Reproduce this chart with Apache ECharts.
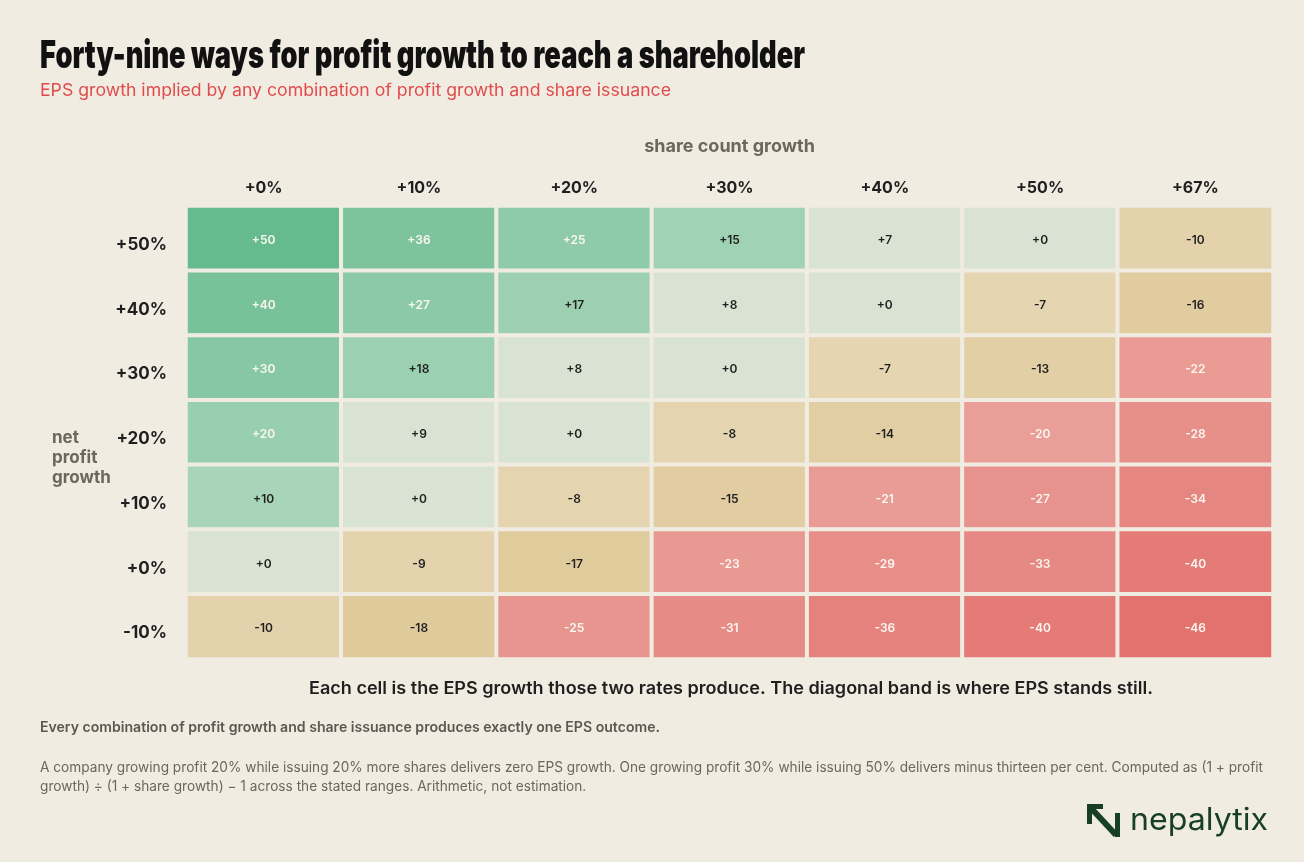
<!DOCTYPE html>
<html style="height: 100%">
<head>
    <meta charset="utf-8">
    <script src="https://cdn.jsdelivr.net/npm/echarts@6/dist/echarts.min.js"></script>
</head>
<body style="height: 100%; margin: 0; background: #f1ece2">
    <div id="main" style="width: 1304px; height: 862px"></div>
    <script type="text/javascript">
        // axes
        var shareGrowth = ['+0%', '+10%', '+20%', '+30%', '+40%', '+50%', '+67%'];
        var profitGrowth = ['+50%', '+40%', '+30%', '+20%', '+10%', '+0%', '-10%'];

        // EPS growth, one row per profit growth (top to bottom)
        var row50 = [50, 36, 25, 15, 7, 0, -10];
        var row40 = [40, 27, 17, 8, 0, -7, -16];
        var row30 = [30, 18, 8, 0, -7, -13, -22];
        var row20 = [20, 9, 0, -8, -14, -20, -28];
        var row10 = [10, 0, -8, -15, -21, -27, -34];
        var row0 = [0, -9, -17, -23, -29, -33, -40];
        var rowM10 = [-10, -18, -25, -31, -36, -40, -46];
        var epsRows = [row50, row40, row30, row20, row10, row0, rowM10];

        var bg = '#f1ece2';
        var myChart = echarts.init(document.getElementById('main'));

        var data = [];
        for (var r = 0; r < epsRows.length; r++) {
            for (var c = 0; c < epsRows[r].length; c++) {
                data.push([c, r, epsRows[r][c]]);
            }
        }

        // colour bands: green above +9, pale around zero, tan down to -19, red beyond
        function hex2rgb(h) {
            return [parseInt(h.substr(1, 2), 16), parseInt(h.substr(3, 2), 16), parseInt(h.substr(5, 2), 16)];
        }
        function mix(a, b, t) {
            t = Math.max(0, Math.min(1, t));
            var x = hex2rgb(a), y = hex2rgb(b);
            return 'rgb(' + [0, 1, 2].map(function (i) { return Math.round(x[i] + (y[i] - x[i]) * t); }).join(',') + ')';
        }
        function bandColor(v) {
            if (v >= 10) return mix('#a8d5b9', '#66bb8e', (v - 10) / 40);
            if (v >= 0) return '#d8e3d3';
            if (v > -20) return mix('#e5d5b1', '#dfca9b', (-v - 7) / 11);
            return mix('#e99e97', '#e3716e', (-v - 20) / 26);
        }
        var colorStops = [];
        for (var v = -46; v <= 50; v++) colorStops.push(bandColor(v));

        // squeeze text horizontally to match the condensed typeface of the original
        var ctx = document.createElement('canvas').getContext('2d');
        function fit(text, font, width) {
            ctx.font = font;
            return width / ctx.measureText(text).width;
        }
        function txt(x, y, text, font, color, width, align) {
            var s = width ? fit(text, font, width) : 1;
            return {
                type: 'text', x: x, y: y, scaleX: s, scaleY: 1,
                style: {
                    text: text, font: font, fill: color,
                    textAlign: align || 'left', align: align || 'left',
                    textVerticalAlign: 'middle', verticalAlign: 'middle'
                }
            };
        }

        var titleFont = '900 38px Inter';
        var subFont = '400 17px Inter';
        var noteFont = '600 17px Inter';
        var leadFont = '600 14px Inter';
        var bodyFont = '400 14px Inter';
        var para1 = 'A company growing profit 20% while issuing 20% more shares delivers zero EPS growth. One growing profit 30% while issuing 50% delivers minus thirteen per cent. Computed as (1 + profit';
        var para2 = 'growth) \u00f7 (1 + share growth) \u2212 1 across the stated ranges. Arithmetic, not estimation.';
        var paraScale = fit(para1, bodyFont, 1223);

        var option = {
            backgroundColor: bg,
            textStyle: { fontFamily: 'Inter' },
            grid: { left: 186, top: 206, width: 1087, height: 453 },
            xAxis: {
                type: 'category',
                position: 'top',
                data: shareGrowth,
                name: 'share count growth',
                nameLocation: 'middle',
                nameGap: 50,
                nameTextStyle: { color: '#6b675c', fontSize: 18, fontWeight: 700 },
                axisLine: { show: false },
                axisTick: { show: false },
                splitLine: { show: false },
                axisLabel: { color: '#1f1f1f', fontSize: 16, fontWeight: 700, margin: 10 }
            },
            yAxis: {
                type: 'category',
                inverse: true,
                data: profitGrowth,
                axisLine: { show: false },
                axisTick: { show: false },
                splitLine: { show: false },
                axisLabel: {
                    margin: 19,
                    formatter: '{a|{value}}',
                    rich: { a: { color: '#1f1f1f', fontSize: 17, fontWeight: 700, padding: [13, 0, 0, 0] } }
                }
            },
            visualMap: {
                show: false,
                type: 'continuous',
                min: -46,
                max: 50,
                dimension: 2,
                inRange: { color: colorStops }
            },
            series: [{
                type: 'heatmap',
                data: data,
                itemStyle: { borderColor: bg, borderWidth: 4 },
                emphasis: { disabled: true },
                label: {
                    show: true,
                    formatter: function (p) {
                        var v = p.value[2];
                        var s = (v >= 0 ? '+' : '-') + Math.abs(v);
                        return Math.abs(v) >= 20 ? '{w|' + s + '}' : '{d|' + s + '}';
                    },
                    rich: {
                        w: { color: '#fbf7f0', fontSize: 12, fontWeight: 600, padding: [4, 0, 0, 0] },
                        d: { color: '#1f1f1f', fontSize: 12, fontWeight: 600, padding: [4, 0, 0, 0] }
                    }
                }
            }],
            graphic: [
                txt(40, 57, 'Forty-nine ways for profit growth to reach a shareholder', titleFont, '#111111', 765),
                txt(40, 91, 'EPS growth implied by any combination of profit growth and share issuance', subFont, '#e14b4b', 631),
                {
                    type: 'text', left: 52, top: 428,
                    style: {
                        text: 'net\nprofit\ngrowth', font: '700 17px Inter', fill: '#6b675c', lineHeight: 20
                    }
                },
                txt(731, 689, 'Each cell is the EPS growth those two rates produce. The diagonal band is where EPS stands still.', noteFont, '#1f1f1f', 844, 'center'),
                txt(40, 728, 'Every combination of profit growth and share issuance produces exactly one EPS outcome.', leadFont, '#5b5850', 620),
                {
                    type: 'text', x: 40, y: 768, scaleX: paraScale,
                    style: { text: para1, font: bodyFont, fill: '#6b675c', textVerticalAlign: 'middle', verticalAlign: 'middle' }
                },
                {
                    type: 'text', x: 40, y: 787, scaleX: paraScale,
                    style: { text: para2, font: bodyFont, fill: '#6b675c', textVerticalAlign: 'middle', verticalAlign: 'middle' }
                },
                // logo mark
                {
                    type: 'polygon',
                    shape: { points: [[1087, 804], [1103, 804], [1103, 809], [1092, 809], [1092, 824], [1087, 824]] },
                    style: { fill: '#173f26' }
                },
                {
                    type: 'line',
                    shape: { x1: 1090, y1: 807, x2: 1116, y2: 835 },
                    style: { stroke: '#173f26', lineWidth: 6 }
                },
                {
                    type: 'rect',
                    shape: { x: 1115, y: 813, width: 5, height: 24 },
                    style: { fill: '#173f26' }
                },
                txt(1130, 821, 'nepalytix', '400 31px Inter', '#173f26', 138)
            ]
        };

        myChart.setOption(option);
    </script>
</body>
</html>
